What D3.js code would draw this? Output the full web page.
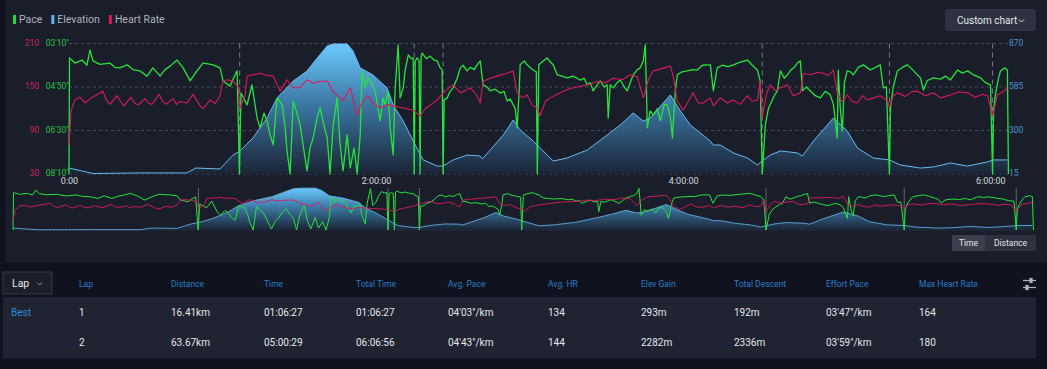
<!DOCTYPE html>
<html><head><meta charset="utf-8">
<script src="https://cdn.jsdelivr.net/npm/d3@7/dist/d3.min.js"></script>
<style>
html,body{margin:0;padding:0;background:#10131f;overflow:hidden;}
svg{display:block;font-family:Roboto,"Noto Sans",sans-serif;}
</style></head><body>
<svg id="c" width="1047" height="369"></svg>
<script>
// ---------- DATA ----------
// [minutes, value]
const elevData = [[0,54],[9.4,18],[27.8,22],[46.1,22],[49.6,54],[59.0,48],[64.1,139],[66.8,166],[71.9,251],[77.4,382],[81.3,513],[87.6,624],[93.0,690],[97.0,775],[100.9,854],[103.2,867],[108.7,867],[111.0,821],[113.8,710],[118.8,664],[124.3,578],[126.7,467],[130.6,362],[134.5,231],[138.4,107],[143.9,67],[146.2,67],[150.1,107],[155.6,139],[160.7,133],[161.5,113],[164.6,172],[169.7,270],[173.6,369],[176.3,303],[181.4,231],[189.2,100],[194.7,120],[202.5,172],[210.3,270],[215.4,336],[220.5,415],[224.4,362],[227.1,382],[235.0,533],[238.9,428],[242.8,336],[250.6,231],[251.8,205],[254.5,205],[259.6,153],[265.1,120],[269.0,74],[270.9,100],[274.0,139],[278.0,166],[284.6,153],[286.6,133],[290.9,231],[298.7,382],[304.1,297],[308.1,185],[314.3,120],[320.6,107],[324.9,74],[332.7,54],[337.8,61],[344.4,87],[351.1,67],[358.9,94],[361.2,107],[366.7,107]];

const hrData = [[0,70],[0.8,117],[2.3,132],[4.2,136],[6.3,128],[8.3,134],[10.2,138],[13.3,144],[14.6,132],[16.0,126],[18.8,138],[20.1,130],[21.5,124],[24.2,136],[25.6,128],[27.0,125],[29.7,134],[31.0,128],[32.4,126],[35.2,140],[36.5,131],[37.9,126],[40.7,134],[42.0,126],[43.4,130],[46.1,128],[48.5,140],[51.2,124],[52.4,120],[55.1,132],[57.1,127],[59.0,138],[60.2,158],[61.8,160],[64.1,158],[66.1,150],[66.8,121],[68.8,139],[69.6,165],[71.9,167],[74.7,169],[77.4,166],[79.8,165],[82.5,144],[85.2,160],[87.6,149],[90.3,149],[93.0,160],[95.4,155],[98.1,158],[100.9,158],[103.2,144],[107.1,131],[109.9,149],[112.6,111],[114.5,128],[116.5,138],[118.8,128],[121.6,121],[124.3,126],[126.7,124],[130.6,121],[134.5,118],[137.2,110],[139.2,120],[141.1,125],[143.9,132],[146.2,142],[148.2,148],[150.1,153],[152.9,142],[154.8,145],[156.8,149],[159.1,140],[160.7,128],[161.8,158],[164.6,162],[167.3,165],[171.2,169],[173.6,172],[175.1,142],[177.1,135],[179.0,139],[181.0,125],[183.0,121],[184.1,110],[186.1,130],[188.0,135],[190.8,140],[193.1,144],[195.9,148],[199.8,151],[203.7,154],[206.4,158],[209.5,156],[212.7,162],[216.2,160],[219.3,167],[222.1,164],[224.4,135],[226.4,160],[228.3,172],[232.2,176],[235.0,179],[236.1,165],[237.7,131],[240.0,118],[242.0,130],[243.9,142],[245.9,128],[247.8,128],[250.6,135],[251.8,124],[254.5,135],[257.2,128],[259.6,132],[262.3,126],[265.1,138],[267.0,130],[269.0,132],[270.1,158],[270.9,107],[272.5,140],[274.0,153],[276.0,145],[278.0,149],[280.7,153],[283.0,138],[285.8,142],[286.9,169],[289.7,167],[292.4,170],[294.8,169],[296.7,166],[298.7,173],[300.2,142],[302.2,130],[304.1,139],[306.1,130],[308.1,128],[310.0,138],[312.0,132],[314.3,135],[317.0,138],[319.8,131],[320.6,122],[322.1,138],[323.7,142],[326.8,137],[329.6,144],[331.5,144],[334.7,138],[337.8,142],[340.5,135],[344.4,139],[347.6,143],[351.1,142],[354.2,136],[357.0,140],[358.9,138],[360.9,110],[362.8,139],[364.8,143],[366.7,149]];

// pace in seconds per km (600 = stopped)
const paceData = [[0,600],[0.2,223],[2.3,235],[5.1,228],[7.0,240],[8.2,205],[9.4,230],[12.1,238],[16.0,235],[18.0,245],[19.9,246],[22.7,239],[25.0,250],[27.8,253],[30.5,265],[32.8,246],[35.6,265],[37.5,250],[39.5,242],[42.2,228],[44.6,246],[46.1,262],[47.3,276],[50.0,253],[52.4,235],[54.3,237],[56.3,239],[59.0,246],[60.2,276],[62.9,288],[64.9,262],[65.7,253],[66.6,600],[67.2,304],[69.6,331],[71.5,285],[73.5,361],[74.7,384],[76.2,350],[77.4,368],[78.6,400],[79.8,423],[81.3,315],[83.3,331],[84.4,380],[85.2,437],[86.4,500],[87.6,322],[89.1,350],[90.3,377],[91.9,440],[93.0,483],[94.2,430],[95.4,407],[97.0,360],[98.1,338],[99.7,380],[100.9,407],[102.0,500],[103.2,380],[104.8,315],[105.9,420],[107.1,483],[108.7,400],[109.9,476],[111.4,430],[112.6,500],[113.8,400],[114.5,253],[115.7,290],[116.9,269],[118.5,285],[119.6,299],[120.8,340],[121.6,368],[122.7,315],[123.5,331],[124.7,300],[125.5,384],[126.7,446],[127.4,299],[128.6,193],[129.4,315],[130.6,292],[131.4,250],[132.6,216],[133.7,225],[134.5,223],[134.9,600],[135.3,230],[136.1,223],[136.8,230],[137.2,600],[137.6,220],[138.0,212],[139.6,225],[141.1,219],[142.7,228],[143.9,230],[145.0,246],[145.8,250],[146.2,600],[146.6,320],[147.8,315],[148.9,300],[150.1,292],[151.7,270],[152.9,246],[154.0,240],[155.6,253],[156.8,245],[158.4,250],[159.5,239],[160.7,230],[161.8,285],[163.4,290],[164.6,299],[166.5,295],[168.5,304],[170.0,300],[171.2,322],[172.4,318],[173.6,331],[174.4,340],[175.1,384],[175.9,300],[176.3,239],[177.9,230],[179.0,239],[180.2,245],[181.4,251],[182.6,255],[183.0,600],[183.6,239],[185.3,230],[186.9,223],[188.0,232],[189.2,239],[190.8,262],[192.7,265],[194.7,269],[197.0,265],[199.8,274],[201.3,270],[202.5,285],[203.7,280],[204.8,299],[206.4,285],[207.6,276],[209.1,290],[210.3,285],[210.7,361],[211.5,285],[212.7,292],[214.2,280],[215.4,274],[217.0,290],[218.1,299],[219.3,280],[220.5,262],[222.1,250],[223.2,246],[224.4,230],[225.2,193],[226.0,384],[227.1,345],[228.3,354],[229.9,340],[231.1,368],[232.6,330],[233.8,331],[235.0,360],[235.8,407],[236.9,300],[237.7,262],[239.6,255],[241.6,253],[243.5,250],[245.5,251],[247.5,240],[249.4,239],[250.6,239],[251.8,299],[253.3,246],[255.3,240],[257.6,243],[259.6,239],[262.3,233],[265.1,228],[267.0,240],[269.0,251],[270.1,276],[270.9,600],[272.1,377],[273.3,340],[274.0,331],[275.6,310],[276.8,299],[278.0,253],[279.5,270],[280.7,262],[282.2,250],[283.4,245],[284.6,235],[285.8,230],[286.6,299],[288.1,290],[289.7,299],[291.6,310],[293.6,315],[295.5,300],[297.5,308],[298.7,330],[300.2,407],[300.6,251],[301.4,340],[302.2,391],[303.0,280],[304.1,253],[305.3,255],[306.5,262],[308.4,245],[310.4,239],[312.0,246],[313.1,251],[315.1,245],[317.0,239],[318.2,292],[319.4,290],[320.6,600],[321.0,338],[322.1,290],[323.7,253],[325.6,245],[327.6,239],[329.6,250],[331.5,262],[332.7,269],[333.9,297],[335.4,275],[337.8,269],[340.5,272],[342.5,265],[344.4,274],[347.2,251],[349.1,258],[351.1,253],[353.4,262],[356.2,269],[358.1,280],[360.1,285],[360.9,600],[361.3,345],[362.0,308],[363.2,270],[364.0,253],[365.6,246],[366.7,251],[367.1,600]];

const lapMarks = [66.7, 134.9, 146.2, 270.9, 320.6, 360.9];
const hrTicks = [30, 90, 150, 210];
const paceTicks = [490, 390, 290, 190];
const elevTicks = [15, 300, 585, 870];
const timeTicks = [0, 120, 240, 360];
const totalMinutes = 366.93;

const legendItems = [["Pace","#23d83a"],["Elevation","#64b5ec"],["Heart Rate","#e0185c"]];
const columns = ["Lap","Distance","Time","Total Time","Avg. Pace","Avg. HR","Elev Gain","Total Descent","Effort Pace","Max Heart Rate"];
const rows = [
  ["Best","1","16.41km","01:06:27","01:06:27","04'03\"/km","134","293m","192m","03'47\"/km","164"],
  ["","2","63.67km","05:00:29","06:06:56","04'43\"/km","144","2282m","2336m","03'59\"/km","180"]
];

// ---------- RENDER ----------
const svg = d3.select("#c");
const C = {pace:"#26e43c", hr:"#dc1a5a", elev:"#6ab8ee"};

svg.append("rect").attr("x",6).attr("y",0).attr("width",1041).attr("height",262).attr("fill","#1a1e2b");

const defs = svg.append("defs");
function grad(id, y1, y2){
  const g = defs.append("linearGradient").attr("id",id).attr("gradientUnits","userSpaceOnUse")
    .attr("x1",0).attr("x2",0).attr("y1",y1).attr("y2",y2);
  g.append("stop").attr("offset",0).attr("stop-color","#6cc8ff");
  g.append("stop").attr("offset",0.45).attr("stop-color","#3c7aa6");
  g.append("stop").attr("offset",1).attr("stop-color","#1b2436");
}
grad("eg1", 44, 174);
grad("eg2", 188, 230);

// Legend
let lx = 13;
const lg = svg.append("g");
legendItems.forEach(([name,col])=>{
  lg.append("rect").attr("x",lx).attr("y",15).attr("width",3).attr("height",9).attr("fill",col);
  const t = lg.append("text").attr("x",lx+6).attr("y",23).attr("fill","#aeb2bd").attr("font-size",10.5).text(name);
  lx += 6 + t.node().getComputedTextLength() + 9;
});

// Custom chart button
svg.append("rect").attr("x",945).attr("y",9).attr("width",91).attr("height",22).attr("rx",2).attr("fill","#2e3241");
svg.append("text").attr("x",957).attr("y",24).attr("fill","#e4e6ea").attr("font-size",10).text("Custom chart");
svg.append("path").attr("d","M1019,19.5 l2.5,2.5 l2.5,-2.5").attr("fill","none").attr("stroke","#e4e6ea").attr("stroke-width",1);

function chart(g, x0, x1, yTop, yBot, gid, main){
  const x = d3.scaleLinear().domain([0,totalMinutes]).range([x0,x1]);
  const yHR = d3.scaleLinear().domain([30,210]).range([yBot,yTop]);
  const yP = d3.scaleLinear().domain([490,190]).range([yBot,yTop]).clamp(true);
  const yE = d3.scaleLinear().domain([15,870]).range([yBot,yTop]);

  if(main){
    g.append("g").selectAll("line").data(hrTicks).join("line")
      .attr("x1",x0).attr("x2",x1).attr("y1",d=>yHR(d)).attr("y2",d=>yHR(d))
      .attr("stroke","#454a5a").attr("stroke-dasharray","3,3").attr("stroke-width",1);
  } else {
    g.append("line").attr("x1",x0).attr("x2",x1).attr("y1",yBot).attr("y2",yBot)
      .attr("stroke","#3a3f4e").attr("stroke-dasharray","2,2");
  }
  const area = d3.area().x(d=>x(d[0])).y0(yBot).y1(d=>yE(d[1]));
  g.append("path").datum(elevData).attr("d",area).attr("fill",`url(#${gid})`);
  g.append("path").datum(elevData).attr("d",d3.line().x(d=>x(d[0])).y(d=>yE(d[1])))
    .attr("fill","none").attr("stroke",C.elev).attr("stroke-width",main?1:0.8);

  g.append("g").selectAll("line").data(lapMarks).join("line")
    .attr("x1",d=>x(d)).attr("x2",d=>x(d)).attr("y1",yTop).attr("y2",yBot)
    .attr("stroke","#80858f").attr("stroke-width",1).attr("stroke-dasharray",main?"5,4":null)
    .attr("opacity",main?0.9:0.7);

  g.append("path").datum(paceData).attr("d",d3.line().x(d=>x(d[0])).y(d=>yP(d[1])))
    .attr("fill","none").attr("stroke",C.pace).attr("stroke-width",main?1.3:1).attr("stroke-linejoin","round");
  g.append("path").datum(hrData).attr("d",d3.line().x(d=>x(d[0])).y(d=>yHR(d[1])))
    .attr("fill","none").attr("stroke",C.hr).attr("stroke-width",main?1.1:0.9).attr("stroke-linejoin","round");

  if(main){
    const fmtP = s=>{const m=Math.floor(s/60), r=s%60; return String(m).padStart(2,"0")+"'"+String(r).padStart(2,"0")+"\"";};
    const fmtT = m=>{ if(m===0) return "0:00"; const h=Math.floor(m/60), mm=m%60; return h+":"+String(mm).padStart(2,"0")+":00";};
    const ax1 = g.append("g").attr("transform","translate(40,0)").call(d3.axisLeft(yHR).tickValues(hrTicks).tickSize(0).tickPadding(1));
    const ax2 = g.append("g").attr("transform","translate(70,0)").call(d3.axisLeft(yP).tickValues(paceTicks).tickFormat(fmtP).tickSize(0).tickPadding(1));
    const ax3 = g.append("g").attr("transform","translate(1008,0)").call(d3.axisRight(yE).tickValues(elevTicks).tickSize(0).tickPadding(1));
    const ax4 = g.append("g").attr("transform",`translate(0,${yBot})`).call(d3.axisBottom(x).tickValues(timeTicks).tickFormat(fmtT).tickSize(0).tickPadding(4));
    [[ax1,"#c8245c"],[ax2,"#2cc043"],[ax3,"#4d92c9"],[ax4,"#d6d8dc"]].forEach(([a,col])=>{
      a.select(".domain").remove();
      a.selectAll("text").attr("fill",col).attr("font-size",a===ax4?9:8.5).attr("font-family","Roboto,sans-serif");
    });
    [ax1,ax2,ax3].forEach(a=>a.selectAll("text").attr("dy","0.22em"));
  }
}
chart(svg.append("g"), 69, 1008, 43.5, 174, "eg1", true);
chart(svg.append("g"), 13, 1033, 188, 230, "eg2", false);

// Time / Distance toggle
svg.append("rect").attr("x",952).attr("y",235).attr("width",33).attr("height",16).attr("fill","#3c404e");
svg.append("rect").attr("x",985).attr("y",235).attr("width",51).attr("height",16).attr("fill","#2d3140");
svg.append("text").attr("x",968.5).attr("y",246).attr("text-anchor","middle").attr("fill","#e0e2e6").attr("font-size",8.5).text("Time");
svg.append("text").attr("x",1010.5).attr("y",246).attr("text-anchor","middle").attr("fill","#e0e2e6").attr("font-size",8.5).text("Distance");

// Table
svg.append("rect").attr("x",3).attr("y",272).attr("width",49).attr("height",22).attr("fill","#1b1f2b").attr("stroke","#363a47");
svg.append("text").attr("x",12).attr("y",287).attr("fill","#e6e8ec").attr("font-size",10.5).text("Lap");
svg.append("path").attr("d","M37,282.5 l2.5,2.5 l2.5,-2.5").attr("fill","none").attr("stroke","#9a9eaa").attr("stroke-width",1);

const colX = [79,171,264,356,448,548,641,734,826,919];
svg.append("g").selectAll("text").data(columns).join("text")
  .attr("x",(d,i)=>colX[i]).attr("y",287).attr("fill","#2b7cc6").attr("font-size",8.5).text(d=>d);

// filter icon
const fi = svg.append("g").attr("stroke","#b0b4be").attr("stroke-width",1.2);
fi.append("line").attr("x1",1023).attr("x2",1036).attr("y1",280.5).attr("y2",280.5);
fi.append("line").attr("x1",1023).attr("x2",1036).attr("y1",287.5).attr("y2",287.5);
fi.append("rect").attr("x",1030).attr("y",278.5).attr("width",2).attr("height",4).attr("fill","#b0b4be");
fi.append("rect").attr("x",1026).attr("y",285.5).attr("width",2).attr("height",4).attr("fill","#b0b4be");

svg.append("rect").attr("x",3).attr("y",297).attr("width",1033).attr("height",61).attr("fill","#1f2332");
rows.forEach((r,ri)=>{
  const y = 316 + ri*30;
  svg.append("text").attr("x",11).attr("y",y).attr("fill","#2f8ad8").attr("font-size",10).text(r[0]);
  svg.append("g").selectAll("text").data(r.slice(1)).join("text")
    .attr("x",(d,i)=>colX[i]).attr("y",y).attr("fill","#e4e6ea").attr("font-size",10).text(d=>d);
});
</script>
</body></html>
